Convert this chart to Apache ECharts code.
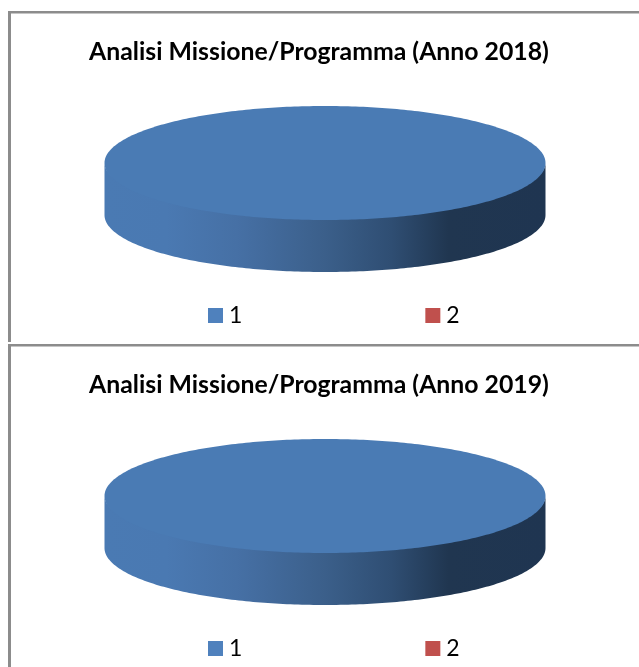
<!DOCTYPE html>
<html><head><meta charset="utf-8">
<style>html,body{margin:0;padding:0;background:#fff}#c{width:639px;height:667px}</style>
<script src="https://cdn.jsdelivr.net/npm/echarts@6/dist/echarts.min.js"></script>
</head><body><div id="c"></div>
<script>
const categories = ['1', '2'];
const titles = ['Analisi Missione/Programma (Anno 2018)', 'Analisi Missione/Programma (Anno 2019)'];
const values2018 = [100, 0];
const values2019 = [100, 0];
const legendColors = ['#4f81bd', '#c0504d'];
const faceColors = ['#4a7bb4', '#bc4d4a'];

const panels = [
  { values: values2018, cx: 325, cy: 163, rx: 220.5, ry: 57, depth: 52, titleTop: 39.5, legendTop: 304 },
  { values: values2019, cx: 325, cy: 496, rx: 220.5, ry: 57, depth: 52, titleTop: 372.5, legendTop: 637 }
];

function wallGradient(p) {
  return {
    type: 'linear', x: p.cx - p.rx, y: 0, x2: p.cx + p.rx, y2: 0, global: true,
    colorStops: [
      { offset: 0, color: '#4a7ab3' }, { offset: 0.14, color: '#4a79b2' },
      { offset: 0.3, color: '#4670a5' }, { offset: 0.5, color: '#3b5f8a' },
      { offset: 0.65, color: '#2f4e73' }, { offset: 0.78, color: '#203650' },
      { offset: 1, color: '#1f3551' }
    ]
  };
}

function slice(panelIdx, catIdx) {
  const p = panels[panelIdx];
  const total = p.values.reduce((a, b) => a + b, 0);
  const before = p.values.slice(0, catIdx).reduce((a, b) => a + b, 0);
  const v = p.values[catIdx];
  return {
    type: 'custom',
    name: categories[catIdx],
    coordinateSystem: 'none',
    silent: true,
    itemStyle: { color: legendColors[catIdx] },
    data: [[v]],
    renderItem: function () {
      if (!v) return null;
      const a0 = before / total * Math.PI * 2 - Math.PI / 2;
      const a1 = (before + v) / total * Math.PI * 2 - Math.PI / 2;
      const at = a => [p.cx + p.rx * Math.cos(a), p.cy + p.ry * Math.sin(a)];
      const steps = 360;
      const top = [];
      const full = v === total;
      if (!full) top.push([p.cx, p.cy]);
      for (let i = 0; i <= steps; i++) top.push(at(a0 + (a1 - a0) * i / steps));
      const rim = [];
      for (let i = 0; i <= steps; i++) {
        const a = a0 + (a1 - a0) * i / steps;
        if (Math.sin(a) >= 0) rim.push(at(a));
      }
      const children = [];
      if (rim.length > 1) {
        rim.sort((m, n) => m[0] - n[0]);
        const lower = rim.map(q => [q[0], q[1] + p.depth]).reverse();
        const upper = rim.map(q => [q[0], p.cy + (q[1] - p.cy) * 0.9]);
        children.push({
          type: 'polygon', shape: { points: upper.concat(lower) },
          style: { fill: catIdx === 0 ? wallGradient(p) : faceColors[catIdx] }
        });
      }
      children.push({ type: 'polygon', shape: { points: top }, style: { fill: faceColors[catIdx] } });
      return { type: 'group', children: children };
    }
  };
}

const series = [];
panels.forEach((p, i) => categories.forEach((c, j) => series.push(slice(i, j))));

const frameColor = '#8c8c8c';
const bar = (x, y, w, h) => ({ type: 'rect', shape: { x, y, width: w, height: h }, style: { fill: frameColor }, silent: true });

const chart = echarts.init(document.getElementById('c'), null, { renderer: 'canvas' });
chart.setOption({
  animation: false,
  backgroundColor: '#ffffff',
  title: panels.map((p, i) => ({
    text: titles[i], left: 319, top: p.titleTop, textAlign: 'center', padding: 0,
    textStyle: { fontFamily: 'Lato', fontWeight: 'bold', fontSize: 24.8, color: '#000000' }
  })),
  legend: panels.map(p => ({
    data: categories, icon: 'rect', orient: 'horizontal', left: 208, top: p.legendTop, padding: 0,
    itemWidth: 15, itemHeight: 15, itemGap: 183, selectedMode: false,
    textStyle: { fontFamily: 'Lato', fontSize: 23, color: '#000000', padding: [0, 0, 2, 1] }
  })),
  graphic: [
    bar(8, 11, 631, 2.5), bar(8, 11, 3, 331),
    bar(8, 344, 631, 2.5), bar(8, 344, 3, 323)
  ],
  series
});
</script></body></html>
